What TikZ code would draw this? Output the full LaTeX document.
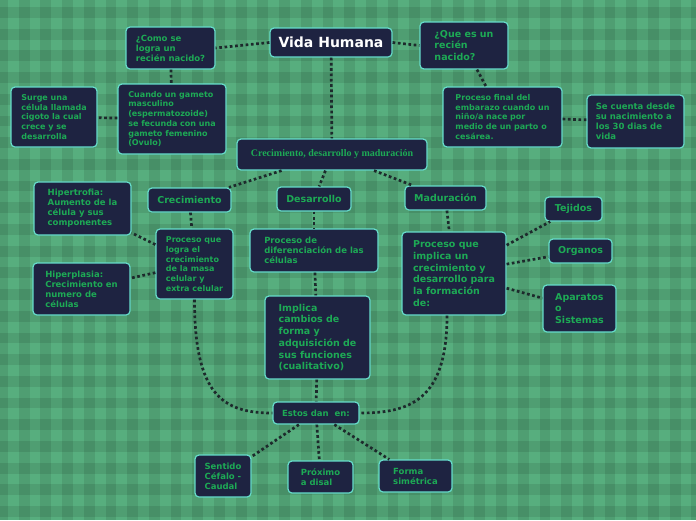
\documentclass[tikz,border=0pt]{standalone}
\usepackage{fontspec}
\setmainfont{DejaVu Sans}
\newfontfamily\titlefont{Liberation Serif}
\usepackage{xcolor}
\definecolor{boxfill}{HTML}{1E2341}
\definecolor{boxline}{HTML}{66DCCB}
\definecolor{mapgreen}{HTML}{1DAA55}
\definecolor{plaid}{HTML}{57AE7E}
\definecolor{dotline}{HTML}{1D2A2C}
\usepackage{tikz}
\usetikzlibrary{positioning}

\newcommand{\fsmall}{\fontsize{8}{9.7}\selectfont\bfseries}
\newcommand{\fmid}{\fontsize{8.5}{10}\selectfont\bfseries}
\newcommand{\fbig}{\fontsize{9.5}{11.7}\selectfont\bfseries}

\tikzset{
  idea/.style 2 args={draw=boxline, line width=1.2pt, fill=boxfill, rounded corners=4pt,
    text=mapgreen, align=left, inner sep=2pt, minimum width=#1, minimum height=#2},
  link/.style={draw=dotline, line width=2.7pt, dash pattern=on 2.7pt off 2.6pt},
}

\begin{document}
\begin{tikzpicture}[x=1pt, y=-1pt]
  \useasboundingbox (0,0) rectangle (696,520);

  % --- plaid background ---
  \begin{scope}
    \clip (0,0) rectangle (696,520);
    \fill[plaid] (0,0) rectangle (696,520);
    \foreach \k in {0,...,32} {
      \fill[black, opacity=0.09] ({-3+21.7*\k},0) rectangle ++(10.8,520);
      \fill[black, opacity=0.09] (0,{7+21.7*\k}) rectangle ++(696,10.8);
    }
  \end{scope}

  % --- top ---
  \node[idea={122pt}{29pt}, text=white, font=\fontsize{14}{16}\selectfont\bfseries] (vida) at (331,42.5) {Vida Humana};
  \node[idea={89pt}{42pt}, font=\fmid] (comose) at (170.5,48) {¿Como se\\logra un\\recién nacido?};
  \node[idea={88pt}{47pt}, font=\fbig] (quees) at (464,45.5) {¿Que es un\\recién\\nacido?};
  \node[idea={86pt}{60pt}, font=\fsmall] (surge) at (54,117) {Surge una\\célula llamada\\cigoto la cual\\crece y se\\desarrolla};
  \node[idea={108pt}{70pt}, font=\fsmall] (cuando) at (172,119) {Cuando un gameto\\masculino\\(espermatozoide)\\se fecunda con una\\gameto femenino\\(Ovulo)};
  \node[idea={119pt}{60pt}, font=\fsmall] (final) at (502.5,117) {Proceso final del\\embarazo cuando un\\niño/a nace por\\medio de un parto o\\cesárea.};
  \node[idea={97pt}{53pt}, font=\fmid] (cuenta) at (635.5,121.5) {Se cuenta desde\\su nacimiento a\\los 30 dias de\\vida};

  % --- middle ---
  \node[idea={190pt}{31pt}, font=\titlefont\fontsize{10}{12}\selectfont\bfseries] (cdm) at (332,154.5) {Crecimiento, desarrollo y maduración};
  \node[idea={83pt}{24pt}, font=\fbig] (crec) at (189.5,200) {Crecimiento};
  \node[idea={74pt}{24pt}, font=\fbig] (desa) at (314,199) {Desarrollo};
  \node[idea={81pt}{24pt}, font=\fbig] (madu) at (445.5,198) {Maduración};

  % Crecimiento branch
  \node[idea={97pt}{53pt}, font=\fmid] (hipert) at (82.5,208.5) {Hipertrofia:\\Aumento de la\\célula y sus\\componentes};
  \node[idea={77pt}{70pt}, font=\fsmall] (logra) at (194.5,264) {Proceso que\\logra el\\crecimiento\\de la masa\\celular y\\extra celular};
  \node[idea={97pt}{52pt}, font=\fmid] (hiperp) at (81.5,289) {Hiperplasia:\\Crecimiento en\\numero de\\células};

  % Desarrollo branch
  \node[idea={128pt}{43pt}, font=\fmid] (dif) at (314,250.5) {Proceso de\\diferenciación de las\\células};
  \node[idea={105pt}{83pt}, font=\fbig] (implica) at (317.5,337.5) {Implica\\cambios de\\forma y\\adquisición de\\sus funciones\\(cualitativo)};

  % Maduracion branch
  \node[idea={104pt}{83pt}, font=\fbig] (formacion) at (454,273.5) {Proceso que\\implica un\\crecimiento y\\desarrollo para\\la formación\\de:};
  \node[idea={57pt}{24pt}, font=\fbig] (tejidos) at (573.5,209) {Tejidos};
  \node[idea={63pt}{24pt}, font=\fbig] (organos) at (580.5,251) {Organos};
  \node[idea={73pt}{47pt}, font=\fbig] (aparatos) at (579.5,308.5) {Aparatos\\o\\Sistemas};

  % --- bottom ---
  \node[idea={86pt}{22pt}, font=\fmid] (estos) at (316,413) {Estos dan~ en:};
  \node[idea={56pt}{42pt}, font=\fmid] (sentido) at (223,476) {Sentido\\Céfalo -\\Caudal};
  \node[idea={65pt}{32pt}, font=\fmid] (proximo) at (320.5,477) {Próximo\\a disal};
  \node[idea={73pt}{32pt}, font=\fmid] (forma) at (415.5,476) {Forma\\simétrica};

  % --- connectors ---
  \draw[link] (vida.west) -- (comose.east);
  \draw[link] (vida.east) -- (quees.west);
  \draw[link] (comose) -- (cuando);
  \draw[link] (cuando) -- (surge);
  \draw[link] (quees) -- (final);
  \draw[link] (final) -- (cuenta);
  \draw[link] (vida) -- (cdm);
  \draw[link] (cdm) -- (crec);
  \draw[link] (cdm) -- (desa);
  \draw[link] (cdm) -- (madu);
  \draw[link] (crec) -- (logra);
  \draw[link] (logra) -- (hipert);
  \draw[link] (logra) -- (hiperp);
  \draw[link] (desa) -- (dif);
  \draw[link] (dif) -- (implica);
  \draw[link] (madu) -- (formacion);
  \draw[link] (formacion) -- (tejidos);
  \draw[link] (formacion) -- (organos);
  \draw[link] (formacion) -- (aparatos);
  \draw[link] (implica) -- (estos);
  \draw[link] (logra.south) .. controls +(0,95) and +(-50,0) .. (estos.west);
  \draw[link] ([xshift=-7pt]formacion.south) .. controls +(0,85) and +(50,0) .. (estos.east);
  \draw[link] (estos) -- (sentido);
  \draw[link] (estos) -- (proximo);
  \draw[link] (estos) -- (forma);
\end{tikzpicture}
\end{document}
